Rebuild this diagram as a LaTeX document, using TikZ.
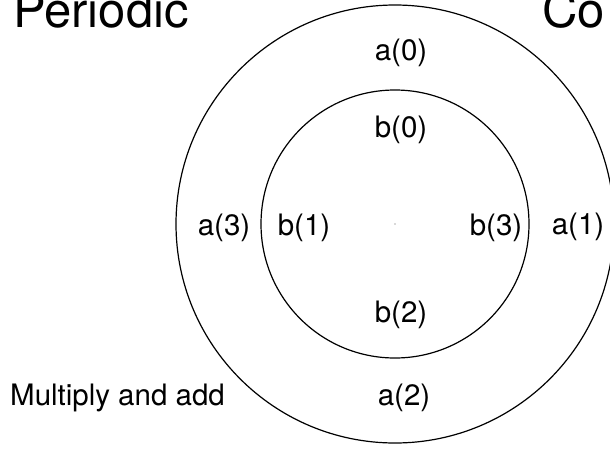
\documentclass[tikz,border=0pt]{standalone}
\usepackage{fontspec}
\setmainfont{TeX Gyre Heros}
\begin{document}
\begin{tikzpicture}[x=1pt,y=-1pt,
  lbl/.style={font=\fontsize{29.5}{32}\selectfont, inner sep=0pt, anchor=base},
  ttl/.style={font=\fontsize{49}{52}\selectfont, inner sep=0pt, anchor=base west},
  ring/.style={draw=black, line width=1.2pt}]
\useasboundingbox (0,0) rectangle (610,448);
\clip (0,0) rectangle (610,448);
\coordinate (c) at (395,224);
\draw[ring] (c) circle[radius=219];
\draw[ring] (c) circle[radius=134];
\fill[gray!60] (c) circle[radius=0.8];
\node[ttl] (t1) at (13,27) {Periodic};
\node[ttl] (t2) at (542,27) {Co};
\node[lbl] (a0) at (401,60) {a(0)};
\node[lbl] (b0) at (401,137) {b(0)};
\node[lbl] (a3) at (224,235) {a(3)};
\node[lbl] (b1) at (304,235) {b(1)};
\node[lbl] (b3) at (496,235) {b(3)};
\node[lbl] (a1) at (578,234) {a(1)};
\node[lbl] (b2) at (401,322) {b(2)};
\node[lbl] (a2) at (404,405) {a(2)};
\node[lbl, anchor=base west] (ma) at (10,405) {Multiply and add};
\end{tikzpicture}
\end{document}
